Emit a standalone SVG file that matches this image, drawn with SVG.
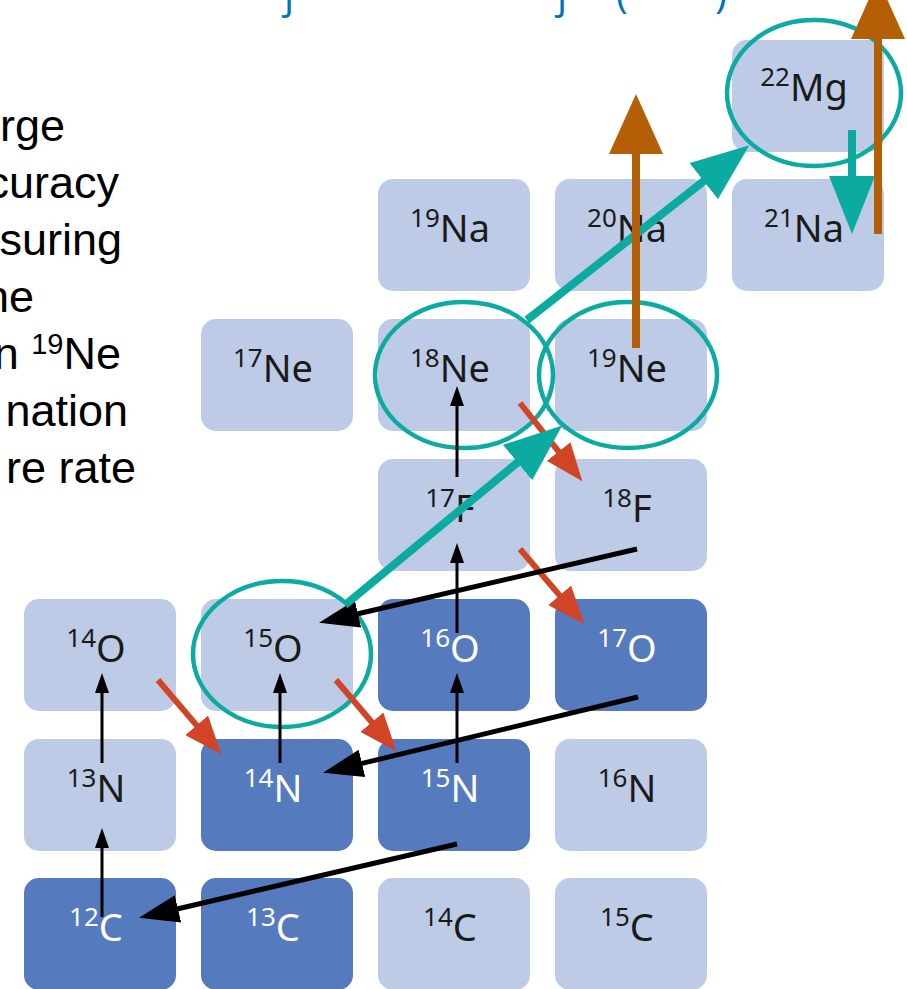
<svg xmlns="http://www.w3.org/2000/svg" width="907" height="989" viewBox="0 0 907 989">
<style>
.lt{fill:#BDCBE6}
.dk{fill:#557BBE}
.nt{font-family:"Noto Sans","Open Sans",sans-serif;font-size:38px;text-anchor:middle;fill:#1a1a1a}
.wt{fill:#ffffff}
.sup{font-size:26px}
.side{font-family:"Liberation Sans",Arial,sans-serif;font-size:45px;fill:#000;text-anchor:end}
.ttl{font-family:"Open Sans","Noto Sans",sans-serif;font-size:40px;fill:#0070C0;text-anchor:middle}
.ring{fill:none;stroke:#0BABA1;stroke-width:4.5}
.teal{stroke:#0BABA1;stroke-width:8;fill:none}
.org{stroke:#B45F06;stroke-width:8;fill:none}
.red{stroke:#D14425;stroke-width:6;fill:none}
.kd{stroke:#000;stroke-width:5;fill:none}
.kv{stroke:#000;stroke-width:3;fill:none}
</style>
<defs>
<marker id="mTeal" viewBox="0 0 58 46" markerWidth="58" markerHeight="46" refX="1" refY="23" orient="auto" markerUnits="userSpaceOnUse"><path d="M0,0 L58,23 L0,46 Z" fill="#0BABA1"/></marker>
<marker id="mOrg" viewBox="0 0 60 54" markerWidth="60" markerHeight="54" refX="1" refY="27" orient="auto" markerUnits="userSpaceOnUse"><path d="M0,0 L60,27 L0,54 Z" fill="#B45F06"/></marker>
<marker id="mRed" viewBox="0 0 38 30" markerWidth="38" markerHeight="30" refX="1" refY="15" orient="auto" markerUnits="userSpaceOnUse"><path d="M0,0 L38,15 L0,30 Z" fill="#D14425"/></marker>
<marker id="mKd" viewBox="0 0 40 28" markerWidth="40" markerHeight="28" refX="1" refY="14" orient="auto" markerUnits="userSpaceOnUse"><path d="M0,0 L40,14 L0,28 Z" fill="#000"/></marker>
<marker id="mKv" viewBox="0 0 20 14" markerWidth="20" markerHeight="14" refX="1" refY="7" orient="auto" markerUnits="userSpaceOnUse"><path d="M0,0 L20,7 L0,14 Z" fill="#000"/></marker>
</defs>
<rect width="907" height="989" fill="#fff"/>

<g id="title-fragments">
<text class="ttl" x="289" y="8">j</text>
<text class="ttl" x="562" y="8">j</text>
<text class="ttl" x="622" y="8">(</text>
<text class="ttl" x="721" y="8">)</text>
</g>

<g id="side-text">
<text class="side" x="65" y="141">rge</text>
<text class="side" x="119" y="198">curacy</text>
<text class="side" x="122" y="255">suring</text>
<text class="side" x="34" y="312">he</text>
<text class="side" x="121" y="369">n <tspan font-size="29" dy="-15">19</tspan><tspan dy="15">Ne</tspan></text>
<text class="side" x="128" y="426">nation</text>
<text class="side" x="136" y="483">re rate</text>
</g>

<g id="n12C"><rect class="dk" x="24" y="878" width="152" height="112" rx="15"/><text class="nt wt" x="96" y="941"><tspan class="sup" dy="-15">12</tspan><tspan dy="15">C</tspan></text></g>
<g id="n13C"><rect class="dk" x="201" y="878" width="152" height="112" rx="15"/><text class="nt wt" x="273" y="941"><tspan class="sup" dy="-15">13</tspan><tspan dy="15">C</tspan></text></g>
<g id="n14C"><rect class="lt" x="378" y="878" width="152" height="112" rx="15"/><text class="nt" x="450" y="941"><tspan class="sup" dy="-15">14</tspan><tspan dy="15">C</tspan></text></g>
<g id="n15C"><rect class="lt" x="555" y="878" width="152" height="112" rx="15"/><text class="nt" x="627" y="941"><tspan class="sup" dy="-15">15</tspan><tspan dy="15">C</tspan></text></g>

<g id="n13N"><rect class="lt" x="24" y="739" width="152" height="112" rx="15"/><text class="nt" x="96" y="802"><tspan class="sup" dy="-15">13</tspan><tspan dy="15">N</tspan></text></g>
<g id="n14N"><rect class="dk" x="201" y="739" width="152" height="112" rx="15"/><text class="nt wt" x="273" y="802"><tspan class="sup" dy="-15">14</tspan><tspan dy="15">N</tspan></text></g>
<g id="n15N"><rect class="dk" x="378" y="739" width="152" height="112" rx="15"/><text class="nt wt" x="450" y="802"><tspan class="sup" dy="-15">15</tspan><tspan dy="15">N</tspan></text></g>
<g id="n16N"><rect class="lt" x="555" y="739" width="152" height="112" rx="15"/><text class="nt" x="627" y="802"><tspan class="sup" dy="-15">16</tspan><tspan dy="15">N</tspan></text></g>

<g id="n14O"><rect class="lt" x="24" y="599" width="152" height="112" rx="15"/><text class="nt" x="96" y="662"><tspan class="sup" dy="-15">14</tspan><tspan dy="15">O</tspan></text></g>
<g id="n15O"><rect class="lt" x="201" y="599" width="152" height="112" rx="15"/><text class="nt" x="273" y="662"><tspan class="sup" dy="-15">15</tspan><tspan dy="15">O</tspan></text></g>
<g id="n16O"><rect class="dk" x="378" y="599" width="152" height="112" rx="15"/><text class="nt wt" x="450" y="662"><tspan class="sup" dy="-15">16</tspan><tspan dy="15">O</tspan></text></g>
<g id="n17O"><rect class="dk" x="555" y="599" width="152" height="112" rx="15"/><text class="nt wt" x="627" y="662"><tspan class="sup" dy="-15">17</tspan><tspan dy="15">O</tspan></text></g>

<g id="n17F"><rect class="lt" x="378" y="459" width="152" height="112" rx="15"/><text class="nt" x="450" y="522"><tspan class="sup" dy="-15">17</tspan><tspan dy="15">F</tspan></text></g>
<g id="n18F"><rect class="lt" x="555" y="459" width="152" height="112" rx="15"/><text class="nt" x="627" y="522"><tspan class="sup" dy="-15">18</tspan><tspan dy="15">F</tspan></text></g>

<g id="n17Ne"><rect class="lt" x="201" y="319" width="152" height="112" rx="15"/><text class="nt" x="273" y="382"><tspan class="sup" dy="-15">17</tspan><tspan dy="15">Ne</tspan></text></g>
<g id="n18Ne"><rect class="lt" x="378" y="319" width="152" height="112" rx="15"/><text class="nt" x="450" y="382"><tspan class="sup" dy="-15">18</tspan><tspan dy="15">Ne</tspan></text></g>
<g id="n19Ne"><rect class="lt" x="555" y="319" width="152" height="112" rx="15"/><text class="nt" x="627" y="382"><tspan class="sup" dy="-15">19</tspan><tspan dy="15">Ne</tspan></text></g>

<g id="n19Na"><rect class="lt" x="378" y="179" width="152" height="112" rx="15"/><text class="nt" x="450" y="242"><tspan class="sup" dy="-15">19</tspan><tspan dy="15">Na</tspan></text></g>
<g id="n20Na"><rect class="lt" x="555" y="179" width="152" height="112" rx="15"/><text class="nt" x="627" y="242"><tspan class="sup" dy="-15">20</tspan><tspan dy="15">Na</tspan></text></g>
<g id="n21Na"><rect class="lt" x="732" y="179" width="152" height="112" rx="15"/><text class="nt" x="804" y="242"><tspan class="sup" dy="-15">21</tspan><tspan dy="15">Na</tspan></text></g>

<g id="n22Mg"><rect class="lt" x="732" y="40" width="152" height="112" rx="15"/><text class="nt" x="804" y="101"><tspan class="sup" dy="-15">22</tspan><tspan dy="15">Mg</tspan></text></g>

<g id="rings">
<ellipse class="ring" cx="282" cy="654" rx="89" ry="73"/>
<ellipse class="ring" cx="464" cy="375" rx="89" ry="73"/>
<ellipse class="ring" cx="628" cy="375" rx="89" ry="73"/>
<ellipse class="ring" cx="814" cy="93" rx="87" ry="73"/>
</g>

<g id="connectors">
<line class="kv" x1="102" y1="917" x2="102" y2="847" marker-end="url(#mKv)"/>
<line class="kv" x1="102" y1="763" x2="102" y2="692" marker-end="url(#mKv)"/>
<line class="kv" x1="280" y1="763" x2="280" y2="692" marker-end="url(#mKv)"/>
<line class="kv" x1="457" y1="763" x2="457" y2="692" marker-end="url(#mKv)"/>
<line class="kv" x1="457" y1="633" x2="457" y2="562" marker-end="url(#mKv)"/>
<line class="kv" x1="457" y1="477" x2="457" y2="405" marker-end="url(#mKv)"/>

<line class="red" x1="158" y1="680" x2="197.3" y2="726.1" marker-end="url(#mRed)"/>
<line class="red" x1="336" y1="680" x2="372.5" y2="723" marker-end="url(#mRed)"/>
<line class="red" x1="520" y1="549" x2="560.3" y2="596.1" marker-end="url(#mRed)"/>
<line class="red" x1="520" y1="403" x2="559.3" y2="452.3" marker-end="url(#mRed)"/>

<line class="kd" x1="637" y1="549" x2="357" y2="614" marker-end="url(#mKd)"/>
<line class="kd" x1="638" y1="697" x2="361" y2="763.6" marker-end="url(#mKd)"/>
<line class="kd" x1="457" y1="844" x2="177" y2="909" marker-end="url(#mKd)"/>

<line class="teal" x1="345" y1="605" x2="518.3" y2="461.9" marker-end="url(#mTeal)"/>
<line class="teal" x1="527" y1="320" x2="704.5" y2="180.5" marker-end="url(#mTeal)"/>
<line class="teal" x1="852" y1="130" x2="852" y2="177" marker-end="url(#mTeal)"/>

<line class="org" x1="636" y1="348" x2="636" y2="153" marker-end="url(#mOrg)"/>
<line class="org" x1="878" y1="234" x2="878" y2="38" marker-end="url(#mOrg)"/>
</g>
</svg>
